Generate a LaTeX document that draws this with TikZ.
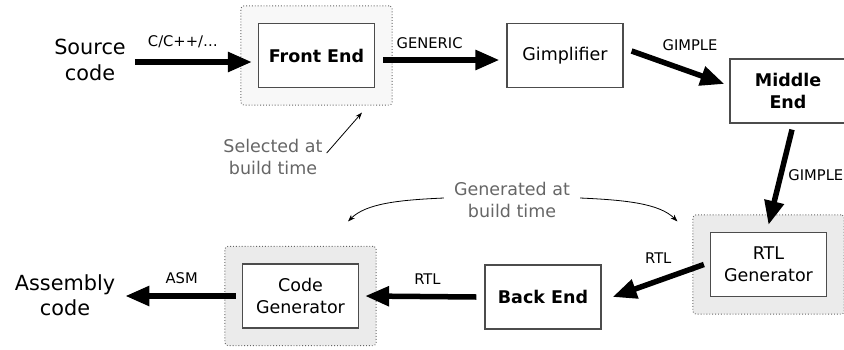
\documentclass[tikz,border=0pt]{standalone}
\usepackage{fontspec}
\setmainfont{DejaVu Sans}
\usetikzlibrary{arrows.meta,positioning,fit,backgrounds}
\definecolor{stagefill}{HTML}{EBEBEB}
\definecolor{pickfill}{HTML}{F8F8F8}
\definecolor{notegrey}{HTML}{666666}

\begin{document}
\begin{tikzpicture}[x=1pt, y=1pt,
    box/.style={draw=black!70, line width=1.2pt, fill=white, align=center,
                minimum width=116pt, minimum height=64pt, inner sep=0pt,
                font=\fontsize{17.5}{22}\selectfont},
    stage/.style={draw=black!60, dotted, line width=0.9pt, rounded corners=3pt,
                  fill=stagefill, inner sep=17pt},
    ends/.style={align=center, inner sep=0pt, font=\fontsize{20.8}{25.5}\selectfont},
    lbl/.style={inner sep=0pt, font=\fontsize{14.7}{17}\selectfont},
    note/.style={align=center, inner sep=0pt, text=notegrey,
                 font=\fontsize{17.5}{22}\selectfont},
    flow/.style={line width=5.5pt, -{Triangle[length=24pt,width=19pt]}},
    hint/.style={line width=0.8pt, -{Stealth[length=7pt,width=5pt]}}
]
\useasboundingbox (0,0) rectangle (844,-349);

\node[ends] (src) at (90,-60) {Source\\code};
\node[box] (front) at (316.5,-55.5) {\textbf{Front End}};
\node[box] (gimp) at (565,-55.5) {Gimplifier};
\node[box] (mid) at (788,-91) {\textbf{Middle}\\\textbf{End}};
\node[box] (rtlgen) at (768.5,-264.5) {RTL\\Generator};
\node[box] (back) at (543,-297) {\textbf{Back End}};
\node[box] (codegen) at (300.5,-296) {Code\\Generator};
\node[ends] (asm) at (65,-295) {Assembly\\code};

\begin{pgfonlayer}{background}
\node[stage, fill=pickfill, fit=(front)] (frontbg) {};
\node[stage, fit=(rtlgen)] (rtlbg) {};
\node[stage, fit=(codegen)] (codebg) {};
\end{pgfonlayer}

\draw[flow] ([shift={(9,-2)}]src.east)
    -- node[lbl, pos=0.41, yshift=20] (lsrc) {C/C++/…}
    ([shift={(-6,-6.5)}]front.west);
\draw[flow] ([shift={(8,-4.5)}]front.east)
    -- node[lbl, pos=0.4, yshift=17] (lgeneric) {GENERIC}
    ([shift={(-7,-4.5)}]gimp.west);
\draw[flow] ([shift={(8,4.5)}]gimp.east)
    -- node[lbl, pos=0.63, yshift=27] (lgimple) {GIMPLE}
    ([shift={(-5,7)}]mid.west);
\draw[flow] ([shift={(4,-6)}]mid.south)
    -- node[lbl, pos=0.48, right=5pt] (lgimpledown) {GIMPLE}
    ([yshift=7]rtlgen.north);
\draw[flow] ([xshift=-6]rtlgen.west)
    -- node[lbl, pos=0.5, yshift=23] (lrtlup) {RTL}
    ([xshift=11]back.east);
\draw[flow] ([xshift=-8]back.west)
    -- node[lbl, pos=0.44, yshift=17] (lrtl) {RTL}
    ([xshift=6]codegen.east);
\draw[flow] ([xshift=-6]codegen.west)
    -- node[lbl, pos=0.49, yshift=18] (lasm) {ASM}
    ([shift={(10,-1)}]asm.east);

\node[note] (sel) at (273,-157) {Selected at\\build time};
\draw[hint] ([shift={(4,4)}]sel.east) -- ([shift={(45.5,-7)}]frontbg.south);

\node[note] (gen) at (512,-200) {Generated at\\build time};
\coordinate (cgtip) at ([shift={(47.5,24.5)}]codebg.north);
\coordinate (rtltip) at ([shift={(-15,-7)}]rtlbg.north west);
\draw[hint] ([shift={(-10,2)}]gen.west) .. controls +(-45,-2) and +(18,18) .. (cgtip);
\draw[hint] ([shift={(10,2)}]gen.east) .. controls +(45,-2) and +(-18,18) .. (rtltip);

\end{tikzpicture}
\end{document}
